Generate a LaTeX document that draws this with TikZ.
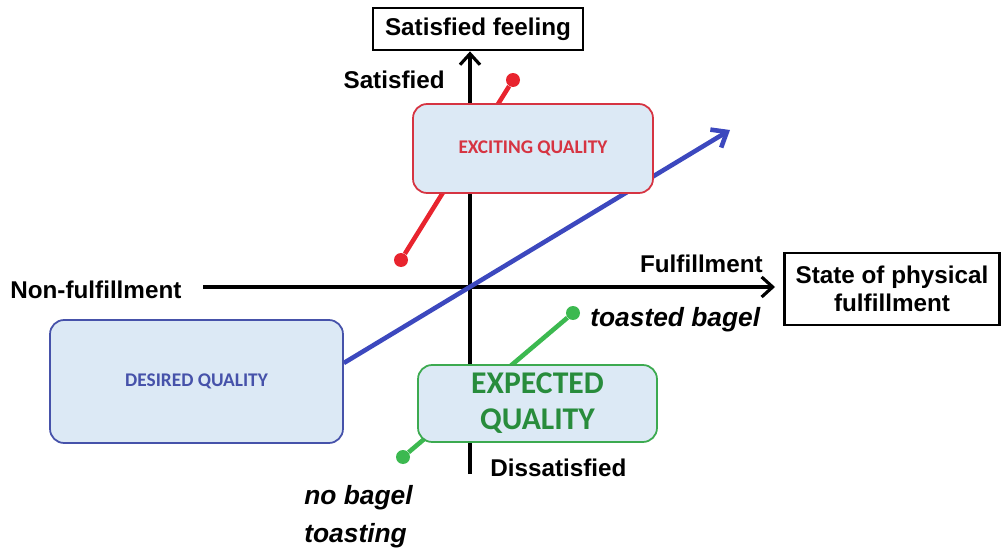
\documentclass[tikz,border=0pt]{standalone}
\usepackage{fontspec}
\newfontfamily\arialf{Liberation Sans}
\newfontfamily\calib{Carlito}
\usepackage{xcolor}
\usetikzlibrary{arrows.meta,positioning,backgrounds}
\definecolor{qfill}{RGB}{220,233,245}
\definecolor{exred}{RGB}{214,52,66}
\definecolor{lnred}{RGB}{232,36,46}
\definecolor{exgreen}{RGB}{60,170,80}
\definecolor{txgreen}{RGB}{40,140,60}
\definecolor{lngreen}{RGB}{60,185,80}
\definecolor{dsblue}{RGB}{70,82,170}
\definecolor{lnblue}{RGB}{60,72,190}

\begin{document}
\begin{tikzpicture}[
  x=0.02cm,y=-0.02cm,
  lbl/.style ={font=\arialf\bfseries\fontsize{13.8}{16}\selectfont,inner sep=0pt},
  ital/.style={font=\arialf\bfseries\itshape\fontsize{15}{21.6}\selectfont,
               inner sep=0pt,align=left},
  hdr/.style ={rectangle,draw=black,line width=1.6pt,align=center,
               font=\arialf\bfseries\fontsize{13.8}{16}\selectfont},
  qbox/.style={rectangle,fill=qfill,rounded corners=8pt,line width=1pt,
               align=center,font=\calib\bfseries\fontsize{11}{13}\selectfont},
  dot/.style ={circle,fill,inner sep=0pt,minimum size=0.28cm},
  ax/.style  ={line width=1.8pt,-{Straight Barb[length=0.22cm,width=0.4cm,line width=1.8pt]}},
  ln/.style  ={line width=2.6pt}
]
\useasboundingbox (0,0) rectangle (1002,551);
% axes boxes and labels
\node[hdr,minimum width=4.2cm,minimum height=0.84cm] (feel) at (478,29) {Satisfied feeling};
\node[hdr,minimum width=4.3cm,minimum height=1.44cm] (state) at (892,289)
  {State of physical\\fulfillment};
\coordinate (o)   at (470,287);
\coordinate (bot) at (470,474);
\coordinate (lft) at (203,287);
\coordinate (rgt) at (775,287);
\node[lbl,anchor=east] (sat)  at (445,80)  {Satisfied};
\node[lbl,anchor=east] (ful)  at (763,264) {Fulfillment};
\node[lbl,anchor=west] (nful) at (10,290)  {Non-fulfillment};
\node[lbl,anchor=west] (dis)  at (490,468) {Dissatisfied};
% quality boxes
\node[qbox,draw=exred,text=exred,minimum width=4.8cm,minimum height=1.78cm]
  (exc) at (533,148.5) {EXCITING QUALITY};
\node[qbox,draw=dsblue,text=dsblue,minimum width=5.86cm,minimum height=2.46cm]
  (des) at (196.5,381.5) {DESIRED QUALITY};
\node[qbox,draw=exgreen,text=txgreen,minimum width=4.78cm,minimum height=1.54cm,
      font=\calib\bfseries\fontsize{18}{20.5}\selectfont]
  (exp) at (537.5,403.5) {EXPECTED\\QUALITY};
% examples
\node[ital,anchor=west] (toast) at (590,320) {toasted bagel};
\node[ital,anchor=west] (nobag) at (304,517) {no bagel\\toasting};
\node[dot,lnred]   (r1) at (401,260) {};
\node[dot,lnred]   (r2) at (513,80)  {};
\node[dot,lngreen] (g1) at (403,457) {};
\node[dot,lngreen] (g2) at (573,313) {};
\coordinate (tip) at (730,130);
\begin{scope}[on background layer]
  \draw[ax] (bot) -- (feel.south -| bot);
  \draw[ax] (lft) -- (rgt);
  \draw[ln,lnred]   (r1) -- (r2);
  \draw[ln,lngreen] (g1) -- (g2);
  \draw[ln,lnblue,-{Straight Barb[length=0.26cm,width=0.42cm,line width=2.6pt]}]
    ([yshift=0.37cm]des.east) -- (tip);
\end{scope}
\end{tikzpicture}
\end{document}
